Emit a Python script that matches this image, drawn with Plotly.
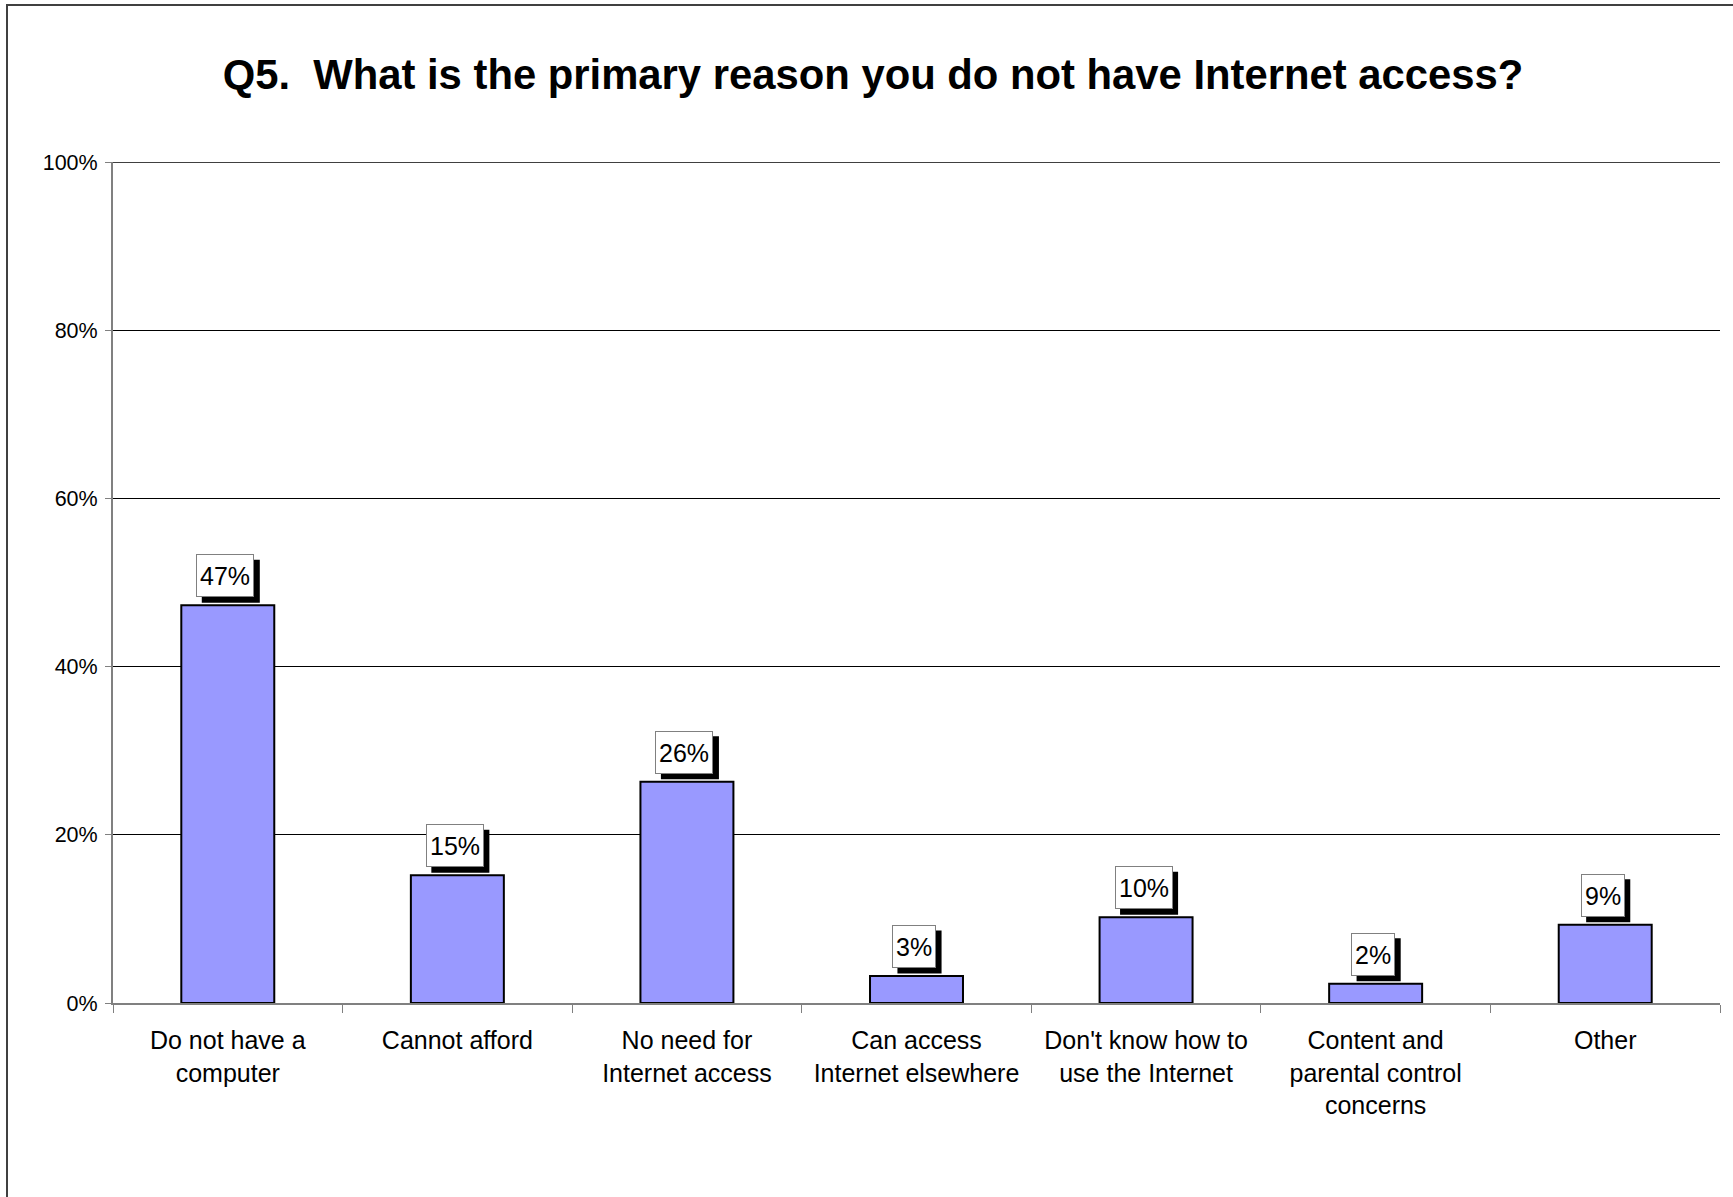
import plotly.graph_objects as go

categories = [
    "Do not have a<br>computer",
    "Cannot afford",
    "No need for<br>Internet access",
    "Can access<br>Internet elsewhere",
    "Don't know how to<br>use the Internet",
    "Content and<br>parental control<br>concerns",
    "Other",
]
values = [47.3, 15.2, 26.3, 3.2, 10.2, 2.3, 9.3]
labels = ["47%", "15%", "26%", "3%", "10%", "2%", "9%"]
y_ticks = [0, 20, 40, 60, 80, 100]
y_ticktext = ["0%", "20%", "40%", "60%", "80%", "100%"]
title_text = "Q5.  What is the primary reason you do not have Internet access?"

W, H = 1733, 1197
ML, MR, MT, MB = 113, 13, 162, 194
PW = W - ML - MR
PH = H - MT - MB

FONT = "Liberation Sans, Arial, sans-serif"
LABEL_SIZE = 25

# approximate Arial glyph advance widths (em units) for label box sizing
CHAR_W = {c: 0.556 for c in "0123456789"}
CHAR_W["%"] = 0.889


def text_width(s, size):
    return sum(CHAR_W.get(c, 0.556) for c in s) * size


fig = go.Figure()
fig.add_trace(go.Bar(
    x=categories,
    y=values,
    width=0.405,
    marker=dict(color="#9999FF", line=dict(color="black", width=2)),
    hoverinfo="skip",
))

BOX_DX = -2.5      # label box horizontal offset from bar centre (px)
BOX_GAP = 8        # gap between bar top and label box (px)
BOX_H = 43         # label box outer height (px)
PAD = 3
SH = 5.5           # shadow offset (px)

annotations = []
shapes = []
for c, v, t in zip(categories, values, labels):
    bw = text_width(t, LABEL_SIZE) + 2 * PAD + 2
    x0 = BOX_DX - bw / 2 + SH
    shapes.append(dict(
        type="rect", xref="x", yref="y",
        xsizemode="pixel", ysizemode="pixel",
        xanchor=c, yanchor=v,
        x0=x0, x1=x0 + bw,
        y0=BOX_GAP - SH, y1=BOX_GAP - SH + BOX_H,
        fillcolor="black", line=dict(width=0), layer="above",
    ))
    annotations.append(dict(
        x=c, y=v, xref="x", yref="y", text=t, showarrow=False,
        xanchor="center", yanchor="bottom", xshift=BOX_DX, yshift=BOX_GAP,
        height=BOX_H - 2 * PAD - 2, valign="middle",
        font=dict(family=FONT, size=LABEL_SIZE, color="black"),
        bgcolor="white", bordercolor="#808080", borderwidth=1, borderpad=PAD,
    ))


def px_to_paper_x(px):
    return (px - ML) / PW


def px_to_paper_y(py):
    return (H - MB - py) / PH


# top gridline (100%) that plotly omits at the plot edge
shapes.append(dict(
    type="line", xref="paper", yref="y", x0=0, x1=1, y0=100, y1=100,
    line=dict(color="black", width=1.3), layer="below",
))

# outer chart border (extends past the right and bottom edges)
shapes.append(dict(
    type="rect", xref="paper", yref="paper",
    x0=px_to_paper_x(7), x1=px_to_paper_x(W + 20),
    y0=px_to_paper_y(5), y1=px_to_paper_y(H + 20),
    line=dict(color="#404040", width=2), fillcolor="rgba(0,0,0,0)", layer="above",
))

fig.update_layout(
    width=W, height=H,
    margin=dict(l=ML, r=MR, t=MT, b=MB, pad=0),
    paper_bgcolor="white", plot_bgcolor="white",
    showlegend=False,
    font=dict(family=FONT, color="black"),
    title=dict(
        text="<b>" + title_text + "</b>",
        x=873 / W, xanchor="center", xref="container",
        y=1 - 74 / H, yanchor="middle", yref="container",
        font=dict(family=FONT, size=41.8, color="black"),
    ),
    annotations=annotations,
    shapes=shapes,
    xaxis=dict(
        type="category",
        categoryorder="array", categoryarray=categories,
        range=[-0.5, len(categories) - 0.5],
        tickson="boundaries",
        ticks="outside", ticklen=8, tickcolor="#808080", tickwidth=1,
        showline=True, linecolor="#808080", linewidth=2,
        showgrid=False, zeroline=False,
        tickfont=dict(family=FONT, size=25, color="black"),
        ticklabelstandoff=14,
        automargin=False,
        fixedrange=True,
    ),
    yaxis=dict(
        range=[0, 100],
        tickmode="array",
        tickvals=y_ticks,
        ticktext=y_ticktext,
        ticks="outside", ticklen=6, tickcolor="#808080", tickwidth=1,
        showline=True, linecolor="#808080", linewidth=2,
        showgrid=True, gridcolor="black", gridwidth=1.3,
        zeroline=False,
        tickfont=dict(family=FONT, size=21.5, color="black"),
        ticklabelstandoff=3,
        automargin=False,
        fixedrange=True,
    ),
)

fig.write_html(
    "out.html",
    config={"displayModeBar": False},
    post_script="document.body.style.margin='0';document.body.style.overflow='hidden';",
)
